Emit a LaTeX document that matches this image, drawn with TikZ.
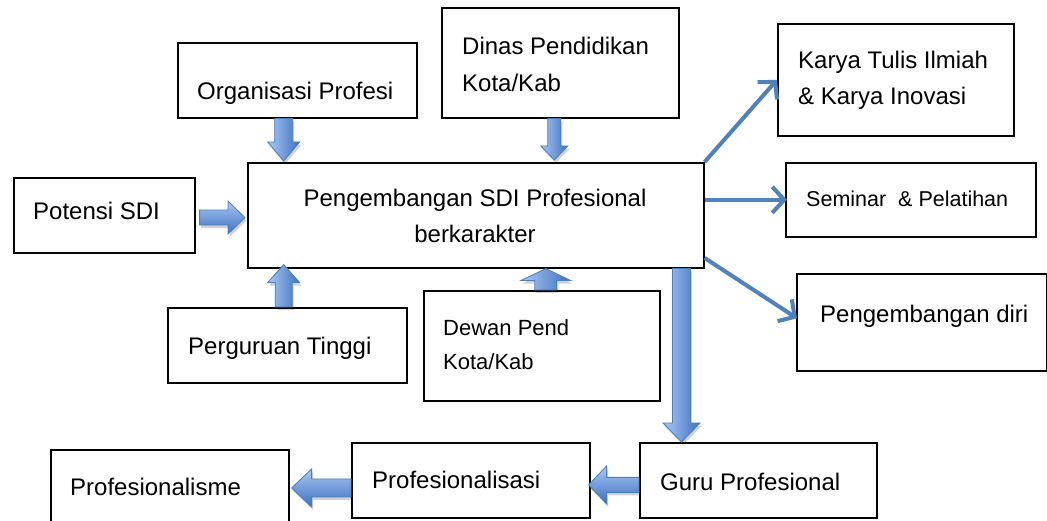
\documentclass[tikz,border=0pt]{standalone}
\usepackage{fontspec}
\setmainfont{Liberation Sans}
\usetikzlibrary{calc,arrows.meta,shadows}
\definecolor{lineblue}{RGB}{79,129,189}
\definecolor{alight}{RGB}{170,200,245}
\definecolor{adark}{RGB}{62,112,190}
\definecolor{aedge}{RGB}{74,126,187}
\tikzset{
  box/.style={draw=black, line width=1.6pt, inner sep=0pt},
  txt/.style={inner sep=0pt, anchor=base west, font=\fontsize{24}{28}\selectfont},
  txts/.style={inner sep=0pt, anchor=base west, font=\fontsize{21.5}{26}\selectfont},
  txtm/.style={inner sep=0pt, anchor=base west, font=\fontsize{22}{26}\selectfont},
  barrow/.style={draw=aedge, line width=0.8pt, line join=miter,
    drop shadow={shadow xshift=1.5pt, shadow yshift=-3pt, opacity=0.18, fill=black}},
  larrow/.style={draw=lineblue, line width=4pt, -{Straight Barb[length=12pt,width=26pt]}},
}
% block arrows: #1 start, #2 end, #3 shaft half width, #4 head half width, #5 head length
\newcommand\barrowdown[5]{\path[barrow, left color=alight, right color=adark] let \p1=(#1), \p2=(#2) in
  (\x1-#3pt,\y1) -- (\x1-#3pt,\y2+#5pt) -- (\x1-#4pt,\y2+#5pt) -- (\x1,\y2) -- (\x1+#4pt,\y2+#5pt) -- (\x1+#3pt,\y2+#5pt) -- (\x1+#3pt,\y1) -- cycle;}
\newcommand\barrowup[5]{\path[barrow, left color=alight, right color=adark] let \p1=(#1), \p2=(#2) in
  (\x1-#3pt,\y1) -- (\x1-#3pt,\y2-#5pt) -- (\x1-#4pt,\y2-#5pt) -- (\x1,\y2) -- (\x1+#4pt,\y2-#5pt) -- (\x1+#3pt,\y2-#5pt) -- (\x1+#3pt,\y1) -- cycle;}
\newcommand\barrowright[5]{\path[barrow, top color=alight, bottom color=adark] let \p1=(#1), \p2=(#2) in
  (\x1,\y1-#3pt) -- (\x2-#5pt,\y1-#3pt) -- (\x2-#5pt,\y1-#4pt) -- (\x2,\y1) -- (\x2-#5pt,\y1+#4pt) -- (\x2-#5pt,\y1+#3pt) -- (\x1,\y1+#3pt) -- cycle;}
\newcommand\barrowleft[5]{\path[barrow, top color=alight, bottom color=adark] let \p1=(#1), \p2=(#2) in
  (\x1,\y1-#3pt) -- (\x2+#5pt,\y1-#3pt) -- (\x2+#5pt,\y1-#4pt) -- (\x2,\y1) -- (\x2+#5pt,\y1+#4pt) -- (\x2+#5pt,\y1+#3pt) -- (\x1,\y1+#3pt) -- cycle;}
\begin{document}
\begin{tikzpicture}[x=1pt,y=-1pt]
\useasboundingbox (0,0) rectangle (1047,521);
\clip (0,0) rectangle (1047,521);
\fill[white] (0,0) rectangle (1047,521);

% boxes
\node[box, anchor=north west, minimum width=239pt, minimum height=75pt] (org) at (177,42) {};
\node[box, anchor=north west, minimum width=237pt, minimum height=110pt] (dinas) at (441,7) {};
\node[box, anchor=north west, minimum width=236pt, minimum height=112pt] (karya) at (777,23) {};
\node[box, anchor=north west, minimum width=250pt, minimum height=74pt] (seminar) at (785,162) {};
\node[box, anchor=north west, minimum width=456pt, minimum height=105pt] (main) at (247,162) {};
\node[box, anchor=north west, minimum width=181pt, minimum height=75pt] (potensi) at (13,177) {};
\node[box, anchor=north west, minimum width=239pt, minimum height=75pt] (pergur) at (167,307) {};
\node[box, anchor=north west, minimum width=236pt, minimum height=110pt] (dewan) at (423,290) {};
\node[box, anchor=north west, minimum width=250pt, minimum height=97pt] (pdiri) at (796,273) {};
\node[box, anchor=north west, minimum width=238pt, minimum height=90pt] (profme) at (50,449) {};
\node[box, anchor=north west, minimum width=238pt, minimum height=75pt] (profsasi) at (351,442) {};
\node[box, anchor=north west, minimum width=237pt, minimum height=75pt] (guru) at (639,442) {};

% texts
\node[txt] (org-t) at (197,100) {Organisasi Profesi};
\node[txt] (dinas-t1) at (462,55) {Dinas Pendidikan};
\node[txt] (dinas-t2) at (462,92) {Kota/Kab};
\node[txt] (karya-t1) at (798,69) {Karya Tulis Ilmiah};
\node[txt] (karya-t2) at (798,105) {\& Karya Inovasi};
\node[txts] (seminar-t) at (806,207) {Seminar\ \ \& Pelatihan};
\node[txt, anchor=base] (main-t1) at (475,207) {Pengembangan SDI Profesional};
\node[txt, anchor=base] (main-t2) at (475,243) {berkarakter};
\node[txt] (potensi-t) at (33,220) {Potensi SDI};
\node[txt] (pergur-t) at (188,355) {Perguruan Tinggi};
\node[txtm] (dewan-t1) at (443,336) {Dewan Pend};
\node[txtm] (dewan-t2) at (443,369) {Kota/Kab};
\node[txt] (pdiri-t) at (820,323) {Pengembangan diri};
\node[txt] (profme-t) at (70,495) {Profesionalisme};
\node[txt] (profsasi-t) at (372,488) {Profesionalisasi};
\node[txt] (guru-t) at (660,490) {Guru Profesional};

% block arrows
\barrowdown{$(org.south west)!0.4435!(org.south east)$}{$(main.north)+(0,-1)$}{9}{16}{19}
\barrowdown{$(dinas.south west)!0.475!(dinas.south east)$}{$(main.north)+(0,-2)$}{6.5}{13.5}{14}
\barrowright{$(potensi.south east)!0.47!(potensi.north east)+(4,0)$}{$(main.west)+(-2,0)$}{7.5}{16.5}{17}
\barrowup{$(pergur.north west)!0.485!(pergur.north east)$}{$(main.south)+(0,-4)$}{8.5}{16}{18}
\barrowup{$(dewan.north west)!0.517!(dewan.north east)$}{main.south}{11}{25}{12}
\barrowdown{$(main.south west)!0.9496!(main.south east)$}{guru.north}{9}{18.5}{19}
\barrowleft{$(guru.north west)!0.56!(guru.south west)$}{$(profsasi.east)+(-2,0)$}{7.5}{19}{18}
\barrowleft{$(profsasi.north west)!0.6!(profsasi.south west)$}{$(profme.east)+(2,0)$}{9}{19}{20}

% line arrows
\draw[larrow] (main.north east) -- (karya.west);
\draw[larrow] (main.east |- seminar.west) -- ($(seminar.west)+(2,0)$);
\draw[larrow] ($(main.south east)!0.1!(main.north east)$) -- ($(pdiri.west)+(1,-4)$);
\end{tikzpicture}
\end{document}
